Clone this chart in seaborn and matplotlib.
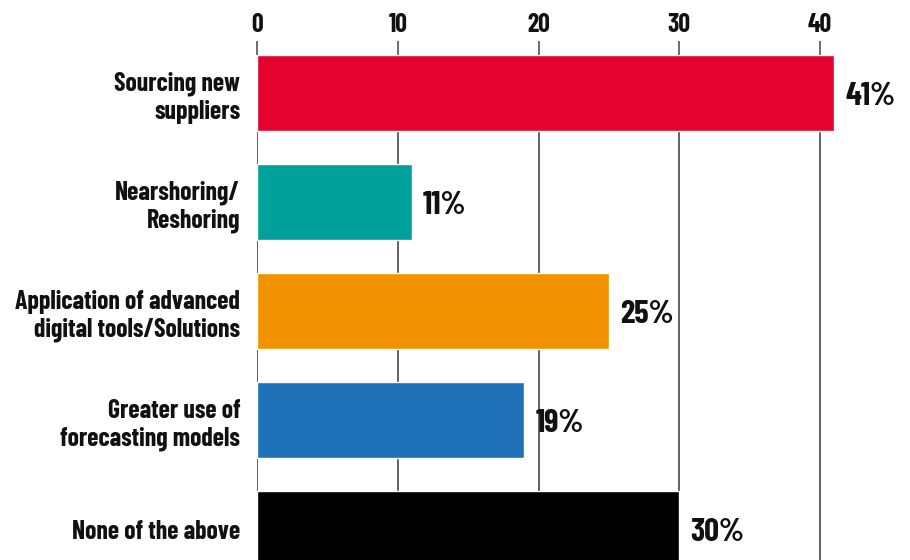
import matplotlib
matplotlib.use("Agg")
import matplotlib.pyplot as plt
from matplotlib import font_manager as fm
import seaborn as sns
import pandas as pd

categories = [
    "Sourcing new\nsuppliers",
    "Nearshoring/\nReshoring",
    "Application of advanced\ndigital tools/Solutions",
    "Greater use of\nforecasting models",
    "None of the above",
]
values = [41, 11, 25, 19, 30]
colors = ["#e4032e", "#00a19a", "#f39200", "#1f71b8", "#000000"]
xticks = [0, 10, 20, 30, 40]

sns.set_theme(style="white")

# narrow bold face: first installed of these files, else condensed DejaVu
preferred = ["BarlowCondensed-Bold.ttf", "BarlowCondensed-SemiBold.ttf",
             "AsapCondensed-Bold.ttf", "DejaVuSansCondensed-Bold.ttf"]
paths = {f.fname.split("/")[-1]: f.fname for f in fm.fontManager.ttflist}
fp = None
for name in preferred:
    if name in paths:
        fp = fm.FontProperties(fname=paths[name])
        break
if fp is None:
    fp = fm.FontProperties(family="DejaVu Sans", weight="bold", stretch="condensed")

df = pd.DataFrame({"category": categories, "value": values})

fig = plt.figure(figsize=(9.1, 5.6), dpi=100)
ax = fig.add_axes([257 / 910, 0.0, (910 - 257) / 910, (560 - 55) / 560])

sns.barplot(data=df, x="value", y="category", hue="category",
            palette=colors, legend=False, width=0.7, saturation=1,
            ax=ax, zorder=3)

x_per_px = 10 / 140.75
ax.set_xlim(0, (910 - 257) * x_per_px)
ax.set_ylim(4.284, -0.35)

ax.set_xticks(xticks)
ax.xaxis.tick_top()
ax.tick_params(axis="x", which="major", direction="out", length=10,
               width=1.2, color="#555555", pad=3, labelcolor="#111111")
ax.tick_params(axis="y", length=0, pad=12, labelcolor="#111111")
for lab in ax.get_xticklabels():
    lab.set_fontproperties(fp)
    lab.set_fontsize(18.5)
for lab in ax.get_yticklabels():
    lab.set_fontproperties(fp)
    lab.set_fontsize(18.5)
    lab.set_horizontalalignment("right")

ax.set_xlabel("")
ax.set_ylabel("")
for x in xticks:
    ax.axvline(x, color="#555555", linewidth=1.3, zorder=1)
for s in ax.spines.values():
    s.set_visible(False)

for i, v in enumerate(values):
    ax.text(v + 0.8, i + 0.03, f"{v}%", va="center", ha="left", fontproperties=fp,
            fontsize=23.5, color="#111111", zorder=4)

fig.savefig("out.png", dpi=100)
